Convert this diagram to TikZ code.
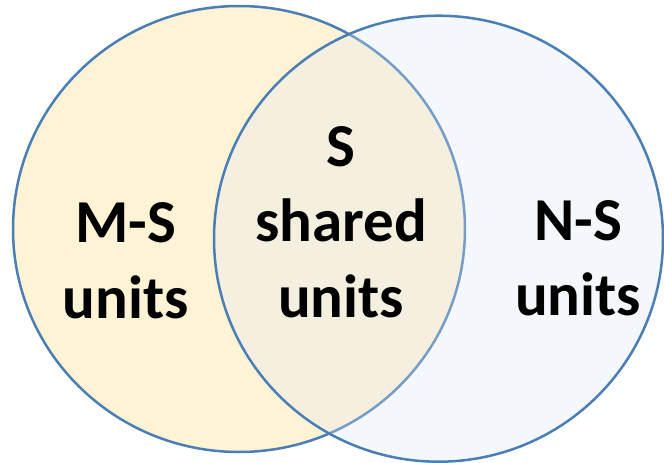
\documentclass[tikz,border=0pt]{standalone}
\usepackage{fontspec}
\setmainfont{Carlito}
\definecolor{ringblue}{HTML}{4A7EB4}
\definecolor{leftfill}{HTML}{FFF3D6}
\definecolor{rightfill}{HTML}{DCE6F4}
\begin{document}
\begin{tikzpicture}[x=1pt,y=-1pt,
  ring/.style={draw=ringblue,line width=2.5pt},
  label/.style={align=center,anchor=base,inner sep=0pt,
    font=\bfseries\fontsize{61}{75.5}\selectfont}]
\useasboundingbox (0,0) rectangle (664,463);
\path[ring,fill=leftfill] (239,229) ellipse [x radius=226,y radius=223];
\path[ring,fill=rightfill,fill opacity=0.3] (438.5,238.7) ellipse [x radius=224.5,y radius=223];
\node[label] (ms) at (125.5,318) {M-S\\units};
\node[label] (s) at (341,317) {S\\shared\\units};
\node[label] (ns) at (578,315.5) {N-S\\units};
\end{tikzpicture}
\end{document}
